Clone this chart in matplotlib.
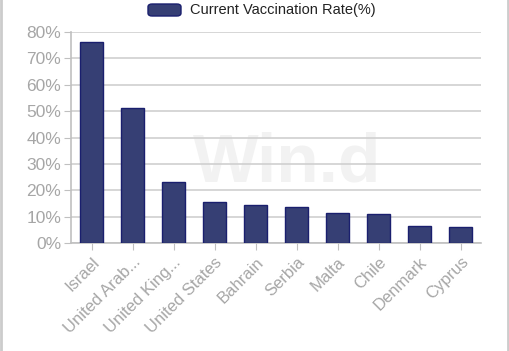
import matplotlib.pyplot as plt
from matplotlib.lines import Line2D
from matplotlib.patches import FancyBboxPatch

plt.rcParams['font.family'] = ['Liberation Sans', 'DejaVu Sans']

# Datos del gráfico
countries = ['Israel', 'United Arab...', 'United King...', 'United States', 'Bahrain',
             'Serbia', 'Malta', 'Chile', 'Denmark', 'Cyprus']
rates = [76.3, 51.3, 23.1, 15.5, 14.6, 13.7, 11.4, 11.0, 6.6, 6.0]
y_ticks = [0, 10, 20, 30, 40, 50, 60, 70, 80]

bar_color = '#363f74'
edge_color = '#1a1f6e'
grey = '#a6a6a6'

fig = plt.figure(figsize=(5.1, 3.51), dpi=100)
ax = fig.add_axes([71 / 510, 1 - 243.3 / 351, 410 / 510, 211.3 / 351])
ax.set_zorder(1)

# Marca de agua
fig.text(287 / 510, 1 - 163 / 351, 'Win.d', fontsize=50, fontweight='bold',
         color='#f2f2f2', ha='center', va='center', zorder=0)

x = range(len(countries))
ax.bar(x, rates, width=0.58, color=bar_color, edgecolor=edge_color, linewidth=1, zorder=3)

ax.set_xlim(-0.5, len(countries) - 0.5)
ax.set_ylim(0, 80)
ax.set_yticks(y_ticks)
ax.set_yticklabels([f'{t}%' for t in y_ticks])
ax.set_xticks(list(x))
ax.set_xticklabels(countries, rotation=45, ha='right', rotation_mode='anchor')

ax.patch.set_alpha(0)
ax.grid(axis='y', color='#d0d0d0', linewidth=1.2, zorder=0)
for side in ['top', 'right']:
    ax.spines[side].set_visible(False)
ax.spines['left'].set_color('#c0c0c0')
ax.spines['bottom'].set_color('#c0c0c0')
ax.spines['left'].set_linewidth(1.2)
ax.spines['bottom'].set_linewidth(1.2)
ax.tick_params(axis='y', length=5, color='#c0c0c0', labelcolor=grey, labelsize=12.5, pad=2)
ax.tick_params(axis='x', length=5, color='#c0c0c0', labelcolor=grey, labelsize=12, pad=3)

# Leyenda
legend_patch = FancyBboxPatch((148 / 510, 1 - 16 / 351), 33 / 510, 12 / 351,
                              boxstyle='round,pad=0,rounding_size=0.008',
                              transform=fig.transFigure, facecolor=bar_color,
                              edgecolor=edge_color, linewidth=1)
fig.patches.append(legend_patch)
fig.text(190 / 510, 1 - 10 / 351, 'Current Vaccination Rate(%)', fontsize=10.5,
         color='#222222', va='center', ha='left')

# Bordes laterales
fig.add_artist(Line2D([1.5 / 510, 1.5 / 510], [0, 1], color='#cccccc', linewidth=2,
                      transform=fig.transFigure))
fig.add_artist(Line2D([508.5 / 510, 508.5 / 510], [0, 1], color='#cccccc', linewidth=2,
                      transform=fig.transFigure))

fig.savefig('out.png', dpi=100)
